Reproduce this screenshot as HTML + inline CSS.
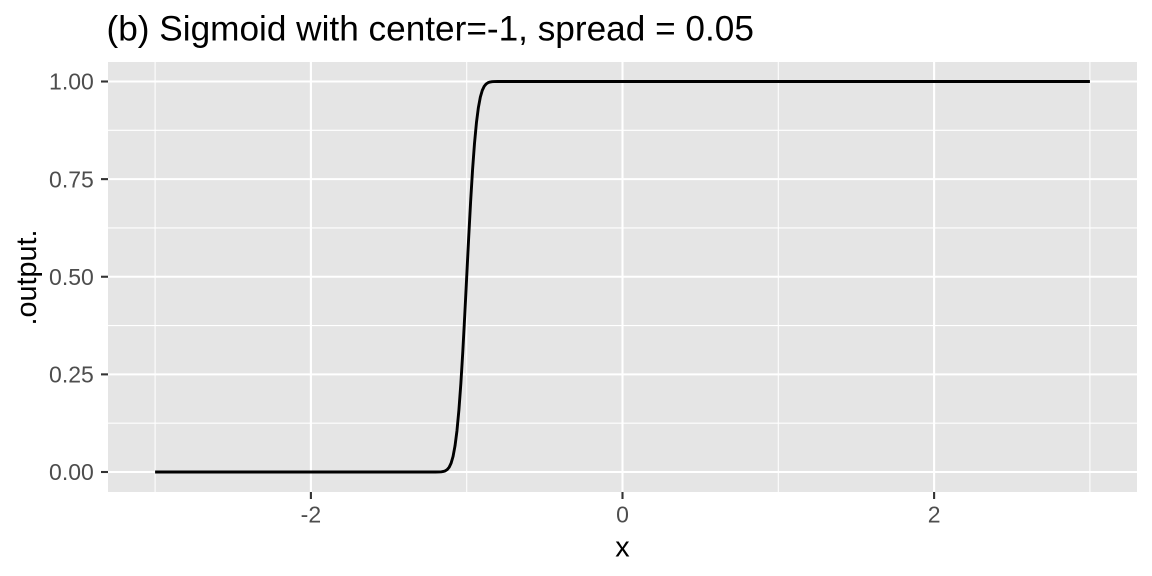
<!DOCTYPE html>
<html>
<head>
<meta charset="utf-8">
<style>
html,body{margin:0;padding:0;background:#fff;}
svg{display:block;font-family:"Liberation Sans",sans-serif;}
</style>
</head>
<body>
<svg id="chart" width="1152" height="576" viewBox="0 0 1152 576" xmlns="http://www.w3.org/2000/svg">
<rect x="0" y="0" width="1152" height="576" fill="#ffffff"/>
<rect x="108" y="62" width="1029" height="430" fill="#e5e5e5"/>
<g id="grid-minor"></g>
<g id="grid-major"></g>
<path id="curve" fill="none" stroke="#000000" stroke-width="2.9" stroke-linejoin="round" stroke-linecap="butt"/>
<g id="x-axis"></g>
<g id="y-axis"></g>
<text x="106.5" y="40.6" font-size="35.2" fill="#000000">(b) Sigmoid with center=-1, spread = 0.05</text>
<text x="622.5" y="556.5" font-size="28.8" fill="#000000" text-anchor="middle">x</text>
<text transform="translate(36,277.5) rotate(-90)" font-size="28.8" fill="#000000" text-anchor="middle">.output.</text>
</svg>
<script>
const xValues = [-3, -2.5, -2, -1.5, -1.25, -1.2, -1.175, -1.1625, -1.15, -1.1375, -1.125, -1.1125, -1.1, -1.0875, -1.075, -1.0625, -1.05, -1.0375, -1.025, -1.0125, -1, -0.9875, -0.975, -0.9625, -0.95, -0.9375, -0.925, -0.9125, -0.9, -0.8875, -0.875, -0.8625, -0.85, -0.8375, -0.825, -0.8, -0.75, -0.5, 0, 1, 2, 3];
const outputValues = [0, 0, 0, 0, 0, 0, 0.0002, 0.0006, 0.0013, 0.003, 0.0062, 0.0122, 0.0228, 0.0401, 0.0668, 0.1056, 0.1587, 0.2266, 0.3085, 0.4013, 0.5, 0.5987, 0.6915, 0.7734, 0.8413, 0.8944, 0.9332, 0.9599, 0.9772, 0.9878, 0.9938, 0.997, 0.9987, 0.9994, 0.9998, 1, 1, 1, 1, 1, 1, 1];
const xMajorTicks = [-2, 0, 2];
const xMinorTicks = [-3, -1, 1, 3];
const yMajorTicks = [0, 0.25, 0.5, 0.75, 1];
const yMinorTicks = [0.125, 0.375, 0.625, 0.875];
const xTickLabels = ["-2", "0", "2"];
const yTickLabels = ["0.00", "0.25", "0.50", "0.75", "1.00"];

const NS = "http://www.w3.org/2000/svg";
const panelLeft = 108, panelRight = 1137, panelTop = 62, panelBottom = 492;
function xScale(v) { return 622.5 + v * 155.8; }
function yScale(v) { return 472 - v * 390.5; }
function makeLine(parent, x1, y1, x2, y2, color, width) {
  const el = document.createElementNS(NS, "line");
  el.setAttribute("x1", x1);
  el.setAttribute("y1", y1);
  el.setAttribute("x2", x2);
  el.setAttribute("y2", y2);
  el.setAttribute("stroke", color);
  el.setAttribute("stroke-width", width);
  parent.appendChild(el);
  return el;
}
function makeLabel(parent, x, y, anchor, content) {
  const el = document.createElementNS(NS, "text");
  el.setAttribute("x", x);
  el.setAttribute("y", y);
  el.setAttribute("text-anchor", anchor);
  el.setAttribute("font-size", "23");
  el.setAttribute("fill", "#4d4d4d");
  el.textContent = content;
  parent.appendChild(el);
  return el;
}
const gridMinor = document.getElementById("grid-minor");
const gridMajor = document.getElementById("grid-major");
const xAxis = document.getElementById("x-axis");
const yAxis = document.getElementById("y-axis");

xMinorTicks.forEach(function (v) {
  const el = makeLine(gridMinor, xScale(v), panelTop, xScale(v), panelBottom, "#ffffff", 1.05);
  
  
});
yMinorTicks.forEach(function (v) {
  const el = makeLine(gridMinor, panelLeft, yScale(v), panelRight, yScale(v), "#ffffff", 1.05);
  
  
});
xMajorTicks.forEach(function (v, i) {
  const grid = makeLine(gridMajor, xScale(v), panelTop, xScale(v), panelBottom, "#ffffff", 2.1);
  
  
  const tick = makeLine(xAxis, xScale(v), panelBottom, xScale(v), panelBottom + 7, "#333333", 2.1);
  
  
  const label = makeLabel(xAxis, xScale(v), 522.5, "middle", xTickLabels[i]);
  
  
});
yMajorTicks.forEach(function (v, i) {
  const grid = makeLine(gridMajor, panelLeft, yScale(v), panelRight, yScale(v), "#ffffff", 2.1);
  
  
  const tick = makeLine(yAxis, panelLeft - 7, yScale(v), panelLeft, yScale(v), "#333333", 2.1);
  
  
  const label = makeLabel(yAxis, 93.8, yScale(v) + 8.2, "end", yTickLabels[i]);
  
  
});
const pathData = xValues.map(function (v, i) {
  return (i === 0 ? "M" : "L") + xScale(v).toFixed(2) + " " + yScale(outputValues[i]).toFixed(2);
}).join(" ");
document.getElementById("curve").setAttribute("d", pathData);
</script>
</body>
</html>
